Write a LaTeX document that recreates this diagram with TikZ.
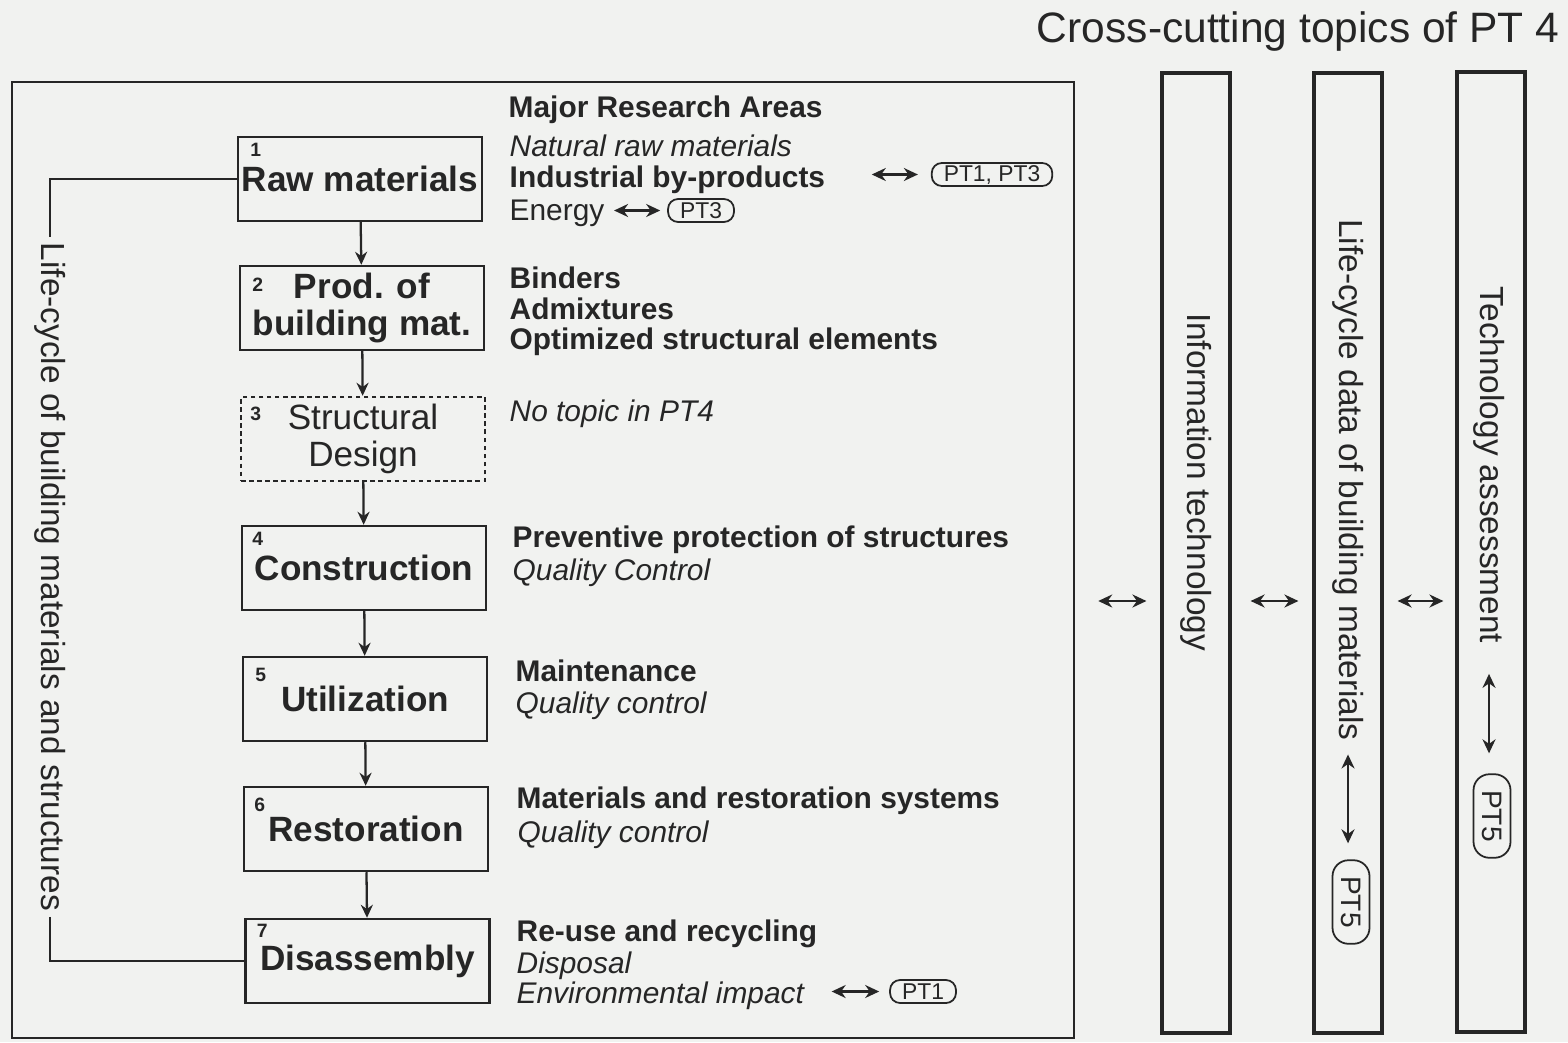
\documentclass[tikz,border=0pt]{standalone}
\usepackage{fontspec}
\setmainfont{Liberation Sans}
\usepackage{xcolor}
\usetikzlibrary{arrows.meta, calc, positioning}

\definecolor{paper}{RGB}{241,242,240}
\definecolor{ink}{RGB}{38,38,38}

\tikzset{
  stage/.style={draw=ink, line width=0.7pt, minimum width=2.44cm, minimum height=0.84cm, inner sep=1pt, align=center, font=\fontsize{10}{10.3}\selectfont\bfseries},
  planned/.style={stage, dash pattern=on 1.3pt off 1pt, font=\fontsize{10}{10.3}\selectfont},
  num/.style={font=\fontsize{5.5}{6}\selectfont\bfseries, inner sep=0pt},
  area/.style={anchor=base west, inner sep=0pt, font=\fontsize{8.5}{10}\selectfont},
  pill/.style={draw=ink, line width=0.5pt, rounded corners=0.1cm, minimum height=0.23cm, inner xsep=0.12cm, inner ysep=0pt, font=\fontsize{6.5}{7}\selectfont},
  bigpill/.style={pill, rotate=-90, rounded corners=0.16cm, minimum height=0.37cm, inner xsep=0.16cm, font=\fontsize{8}{9}\selectfont},
  topic/.style={draw=ink, line width=0.9pt, minimum width=0.68cm, minimum height=9.6cm, inner sep=0pt},
  topictext/.style={rotate=-90, inner sep=0pt, font=\fontsize{9.5}{11}\selectfont},
  flow/.style={-{Stealth[length=1.3mm, width=1.2mm]}, line width=0.65pt, draw=ink},
  link/.style={{Stealth[length=1.4mm, width=1.3mm]}-{Stealth[length=1.4mm, width=1.3mm]}, line width=0.65pt, draw=ink},
}

\begin{document}
\begin{tikzpicture}[text=ink]
\fill[paper] (0,0) rectangle (15.68,-10.42);
\useasboundingbox (0,0) rectangle (15.68,-10.42);

% title and outer frame
\node[anchor=base east, inner sep=0pt, font=\fontsize{12.1}{14}\selectfont] (title) at (15.60,-0.42) {Cross-cutting topics of PT 4};
\node[draw=ink, line width=0.7pt, minimum width=10.62cm, minimum height=9.56cm] (frame) at (5.43,-5.60) {};

% life-cycle stages
\node[stage] (raw) at (3.60,-1.79) {Raw materials};
\node[stage] (prod) at (3.62,-3.08) {Prod. of\\building mat.};
\node[planned] (sd) at (3.63,-4.39) {Structural\\Design};
\node[stage] (con) at (3.64,-5.68) {Construction};
\node[stage] (uti) at (3.65,-6.99) {Utilization};
\node[stage] (res) at (3.66,-8.29) {Restoration};
\node[stage] (dis) at (3.675,-9.61) {Disassembly};
\node[num, below right=0.07cm and 0.13cm of raw.north west] (n1) {1};
\node[num, below right=0.13cm and 0.13cm of prod.north west] (n2) {2};
\node[num, below right=0.11cm and 0.10cm of sd.north west] (n3) {3};
\node[num, below right=0.07cm and 0.11cm of con.north west] (n4) {4};
\node[num, below right=0.12cm and 0.13cm of uti.north west] (n5) {5};
\node[num, below right=0.12cm and 0.11cm of res.north west] (n6) {6};
\node[num, below right=0.06cm and 0.12cm of dis.north west] (n7) {7};
\draw[flow] (raw) -- (prod);
\draw[flow] (prod) -- (sd);
\draw[flow] (sd) -- (con);
\draw[flow] (con) -- (uti);
\draw[flow] (uti) -- (res);
\draw[flow] (res) -- (dis);

% life-cycle loop on the left
\node[rotate=-90, inner sep=0.05cm, font=\fontsize{9.5}{11}\selectfont] (cycle) at (0.50,-5.77) {Life-cycle of building materials and structures};
\draw[line width=0.7pt, ink] (raw.west) -| (cycle.west);
\draw[line width=0.7pt, ink] (cycle.east) |- (dis.west);

% research areas
\node[area] (head) at (5.08,-1.17) {\bfseries Major Research Areas};
\node[area] (nat) at (5.09,-1.56) {\itshape Natural raw materials};
\node[area] (ind) at (5.09,-1.87) {\bfseries Industrial by-products};
\node[area] (en) at (5.09,-2.20) {Energy};
\node[pill] (pt13) at (9.92,-1.745) {PT1, PT3};
\node[pill] (pt3) at (7.01,-2.105) {PT3};
\draw[link, shorten <=0.46cm, shorten >=0.13cm] (pt13.west -| ind.east) -- (pt13.west);
\draw[link, shorten <=0.09cm, shorten >=0.07cm] (pt3.west -| en.east) -- (pt3.west);
\node[area] (bin) at (5.09,-2.88) {\bfseries Binders};
\node[area] (adm) at (5.09,-3.19) {\bfseries Admixtures};
\node[area] (opt) at (5.09,-3.49) {\bfseries Optimized structural elements};
\node[area] (none) at (5.09,-4.21) {\itshape No topic in PT4};
\node[area] (prev) at (5.12,-5.47) {\bfseries Preventive protection of structures};
\node[area] (qc1) at (5.12,-5.80) {\itshape Quality Control};
\node[area] (mnt) at (5.15,-6.81) {\bfseries Maintenance};
\node[area] (qc2) at (5.15,-7.13) {\itshape Quality control};
\node[area] (mat) at (5.16,-8.08) {\bfseries Materials and restoration systems};
\node[area] (qc3) at (5.17,-8.42) {\itshape Quality control};
\node[area] (reuse) at (5.16,-9.41) {\bfseries Re-use and recycling};
\node[area] (disp) at (5.16,-9.73) {\itshape Disposal};
\node[area] (env) at (5.16,-10.03) {\itshape Environmental impact};
\node[pill] (pt1) at (9.23,-9.915) {PT1};
\draw[link, shorten <=0.27cm, shorten >=0.10cm] (pt1.west -| env.east) -- (pt1.west);

% cross-cutting topics
\node[topic] (it) at (11.96,-5.53) {};
\node[topic] (lcd) at (13.48,-5.53) {};
\node[topic] (ta) at (14.91,-5.52) {};
\node[topictext] (itt) at (11.96,-4.82) {Information technology};
\node[topictext] (lcdt) at (13.48,-4.80) {Life-cycle data of building materials};
\node[topictext] (tat) at (14.89,-4.65) {Technology assessment};
\node[bigpill] (pt5a) at (13.51,-9.02) {PT5};
\node[bigpill] (pt5b) at (14.92,-8.16) {PT5};
\draw[link, shorten <=0.13cm, shorten >=0.16cm] (lcdt.east) -- (lcdt.east |- pt5a.west);
\draw[link, shorten <=0.30cm, shorten >=0.20cm] (tat.east) -- (tat.east |- pt5b.west);
\coordinate (mid) at (0,-6.01);
\draw[link, shorten <=0.23cm, shorten >=0.14cm] (frame.east |- mid) -- (it.west |- mid);
\draw[link, shorten <=0.19cm, shorten >=0.14cm] (it.east |- mid) -- (lcd.west |- mid);
\draw[link, shorten <=0.14cm, shorten >=0.12cm] (lcd.east |- mid) -- (ta.west |- mid);
\end{tikzpicture}
\end{document}
